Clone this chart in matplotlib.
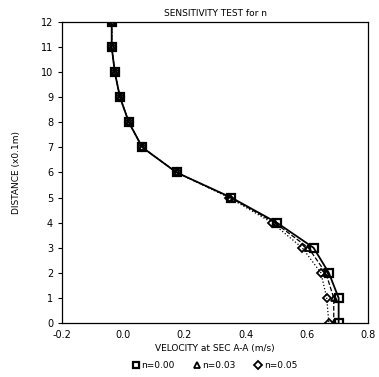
import numpy as np
import matplotlib.pyplot as plt

# distance (x0.1 m) and velocity profiles for each Manning n
distance = [12, 11, 10, 9, 8, 7, 6, 5, 4, 3, 2, 1, 0]
vel_n000 = [-0.038, -0.038, -0.028, -0.011, 0.018, 0.062, 0.174, 0.353, 0.502, 0.622, 0.672, 0.704, 0.704]
vel_n003 = [-0.038, -0.038, -0.028, -0.011, 0.018, 0.062, 0.174, 0.350, 0.495, 0.605, 0.662, 0.688, 0.688]
vel_n005 = [-0.038, -0.038, -0.028, -0.011, 0.018, 0.062, 0.174, 0.346, 0.486, 0.585, 0.646, 0.665, 0.672]

labels = ['n=0.00', 'n=0.03', 'n=0.05']
xticks = [-0.2, 0.0, 0.2, 0.4, 0.6, 0.8]
yticks = list(range(0, 13))

plt.rcParams['font.family'] = 'DejaVu Sans'
fig = plt.figure(figsize=(3.79, 3.77), dpi=100)
ax = fig.add_axes([0.164, 0.143, 0.807, 0.799])

ax.plot(vel_n000, distance, '-', color='black', lw=1.3, marker='s', ms=5.5,
        mfc='none', mec='black', mew=1.6, label=labels[0])
ax.plot(vel_n003, distance, '--', color='black', lw=0.9, marker='^', ms=5,
        mfc='none', mec='black', mew=1.3, label=labels[1])
ax.plot(vel_n005, distance, ':', color='black', lw=0.9, marker='D', ms=4,
        mfc='none', mec='black', mew=1.3, label=labels[2])

ax.set_xlim(-0.2, 0.8)
ax.set_ylim(0, 12)
ax.set_xticks(xticks)
ax.set_xticklabels(['-0.2', '0.0', '0.2', '0.4', '0.6', '0.8'])
ax.set_yticks(yticks)
ax.tick_params(axis='both', labelsize=7, length=3, width=0.8, direction='out')
ax.tick_params(axis='x', length=0, pad=5)

ax.set_title('SENSITIVITY TEST for n', fontsize=6.5, pad=4)
ax.set_xlabel('VELOCITY at SEC A-A (m/s)', fontsize=6.5, labelpad=3)
ax.set_ylabel('DISTANCE (x0.1m)', fontsize=6.5, labelpad=14)

for s in ax.spines.values():
    s.set_linewidth(0.9)

ax.legend(loc='upper center', bbox_to_anchor=(0.5, -0.1), ncol=3, frameon=False,
          fontsize=6.5, handlelength=0.6, handletextpad=0.3, columnspacing=2.2,
          markerscale=0.9)
leg = ax.get_legend()
for h in leg.legend_handles:
    h.set_linestyle('None')

fig.savefig('out.png', dpi=100)
